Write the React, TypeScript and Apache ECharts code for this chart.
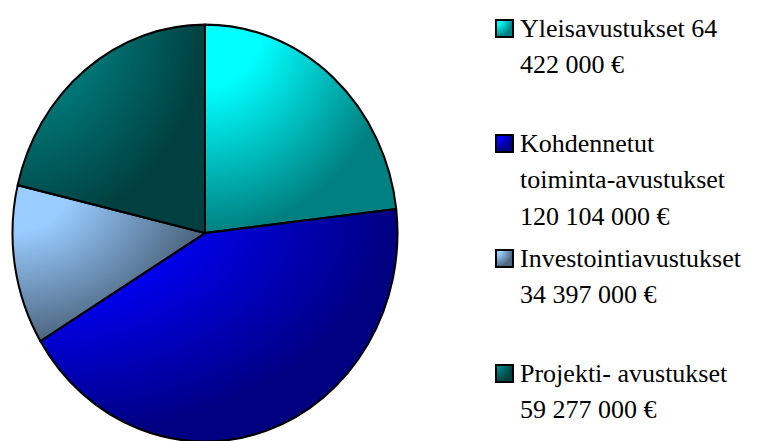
import React, { useEffect, useRef } from "react";
import * as echarts from "echarts";

const categories = [
  "Yleisavustukset",
  "Kohdennetut toiminta-avustukset",
  "Investointiavustukset",
  "Projekti- avustukset",
];
const values = [64422000, 120104000, 34397000, 59277000];
const legendLines = [
  ["Yleisavustukset 64", "422 000 €"],
  ["Kohdennetut", "toiminta-avustukset", "120 104 000 €"],
  ["Investointiavustukset", "34 397 000 €"],
  ["Projekti- avustukset", "59 277 000 €"],
];
const brightColors = ["#00FFFF", "#0000FF", "#99CCFF", "#008080"];
const darkColors = ["#008080", "#000080", "#4D6680", "#004040"];

const SCALE_Y = 1.083;

function grad(i: number) {
  return new echarts.graphic.RadialGradient(0, 0, 1, [
    { offset: 0, color: brightColors[i] },
    { offset: 0.3, color: brightColors[i] },
    { offset: 1, color: darkColors[i] },
  ]);
}

export default function App() {
  const pieRef = useRef<HTMLDivElement>(null);
  const legRef = useRef<HTMLDivElement>(null);

  useEffect(() => {
    const leg = echarts.init(legRef.current!, undefined, { renderer: "svg" });
    const elements: any[] = [];
    legendLines.forEach((lines, i) => {
      elements.push({
        type: "rect",
        shape: { x: 496, y: 20 + 115 * i, width: 17, height: 17 },
        style: { fill: grad(i), stroke: "#000", lineWidth: 2 },
      });
      lines.forEach((line, j) => {
        elements.push({
          type: "text",
          x: 520,
          y: 36.7 + 115 * i + 36.5 * j - 21.5,
          style: {
            text: line,
            fontSize: 26,
            fontFamily: "Times New Roman",
            fill: "#000",
          },
        });
      });
    });
    leg.setOption({ animation: false, graphic: { elements } });

    const pie = echarts.init(pieRef.current!, undefined, { renderer: "svg" });
    pie.setOption({
      animation: false,
      series: [
        {
          type: "pie",
          center: [205, 215.2],
          radius: 192.5,
          startAngle: 90,
          clockwise: true,
          silent: true,
          label: { show: false },
          labelLine: { show: false },
          emphasis: { disabled: true },
          itemStyle: { borderColor: "#000", borderWidth: 2 },
          data: categories.map((name, i) => ({
            name,
            value: values[i],
            itemStyle: { color: grad(i) },
          })),
        },
      ],
    });

    return () => {
      pie.dispose();
      leg.dispose();
    };
  }, []);

  return (
    <div style={{ position: "fixed", left: 0, top: 0, width: 763, height: 441, background: "#fff", overflow: "hidden" }}>
      <div ref={legRef} style={{ position: "absolute", left: 0, top: 0, width: 763, height: 441 }} />
      <div
        ref={pieRef}
        style={{
          position: "absolute",
          left: 0,
          top: 0,
          width: 410,
          height: 408,
          transform: `scaleY(${SCALE_Y})`,
          transformOrigin: "0 0",
        }}
      />
    </div>
  );
}
